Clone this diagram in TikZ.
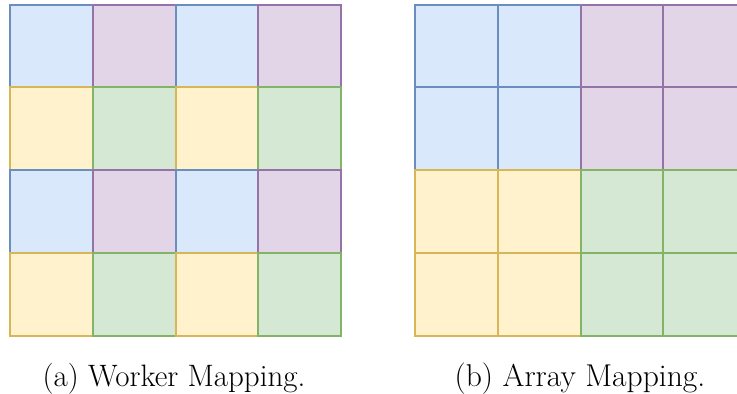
\documentclass[tikz,border=0pt]{standalone}
\usepackage{tikz}
\usepackage{graphicx}
\definecolor{bfill}{HTML}{DAE8FC}\definecolor{bdraw}{HTML}{6C8EBF}
\definecolor{pfill}{HTML}{E1D5E7}\definecolor{pdraw}{HTML}{9673A6}
\definecolor{yfill}{HTML}{FFF2CC}\definecolor{ydraw}{HTML}{D6B656}
\definecolor{gfill}{HTML}{D5E8D4}\definecolor{gdraw}{HTML}{82B366}
\tikzset{
  cell/.style={rectangle, minimum size=62.1pt, inner sep=0pt, outer sep=0pt, line width=1.5pt},
  cb/.style={cell, fill=bfill, draw=bdraw},
  cp/.style={cell, fill=pfill, draw=pdraw},
  cy/.style={cell, fill=yfill, draw=ydraw},
  cg/.style={cell, fill=gfill, draw=gdraw},
  captext/.style={font=\fontsize{22.5}{27}\selectfont, inner sep=0pt, anchor=base}
}
\begin{document}
\begin{tikzpicture}[x=0.75pt, y=-0.75pt]
\useasboundingbox (0,0) rectangle (737,393);
\clip (0,0) rectangle (737,393);
% left grid: worker mapping
\foreach \r/\a/\b in {0/cb/cp, 1/cy/cg, 2/cb/cp, 3/cy/cg}{
  \foreach \c in {0,1,2,3}{
    \pgfmathtruncatemacro{\odd}{mod(\c,2)}
    \ifnum\odd=0
      \node[\a] (L\r\c) at ({10+(\c+0.5)*82.8},{4.5+(\r+0.5)*82.8}) {};
    \else
      \node[\b] (L\r\c) at ({10+(\c+0.5)*82.8},{4.5+(\r+0.5)*82.8}) {};
    \fi
  }
}
% right grid: array mapping
\foreach \r/\a/\b in {0/cb/cp, 1/cb/cp, 2/cy/cg, 3/cy/cg}{
  \foreach \c in {0,1,2,3}{
    \ifnum\c<2
      \node[\a] (R\r\c) at ({415+(\c+0.5)*82.8},{4.5+(\r+0.5)*82.8}) {};
    \else
      \node[\b] (R\r\c) at ({415+(\c+0.5)*82.8},{4.5+(\r+0.5)*82.8}) {};
    \fi
  }
}
\node[captext] (capa) at (174,386) {\resizebox{197pt}{!}{(a) Worker Mapping.}};
\node[captext] (capb) at (580,386) {\resizebox{188pt}{!}{(b) Array Mapping.}};
\end{tikzpicture}
\end{document}
